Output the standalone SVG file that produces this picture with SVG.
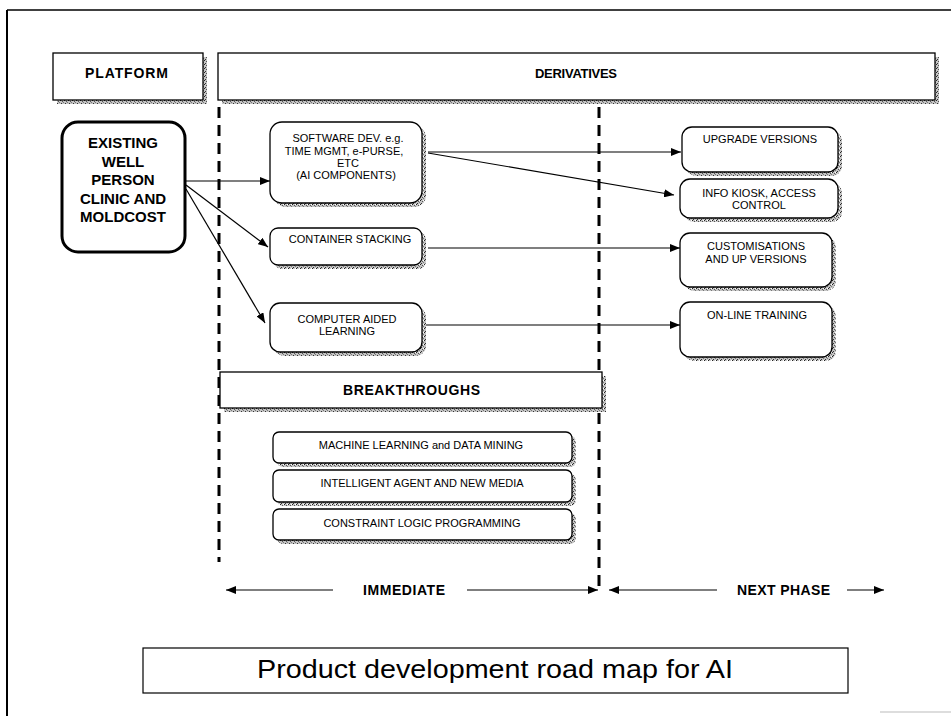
<svg xmlns="http://www.w3.org/2000/svg" width="951" height="716" viewBox="0 0 951 716">
<style>
text{font-family:"Liberation Sans",Arial,sans-serif;fill:#000}
.b{font-weight:bold}
.s{font-size:11px}
.m{text-anchor:middle}
.box{fill:#fff;stroke:#000;stroke-width:1.3}
.sh{fill:url(#hatch)}
.con{stroke:#000;stroke-width:1.2;fill:none}
.dash{stroke:#000;stroke-width:3;stroke-dasharray:11 7;fill:none}
.frame{stroke:#000;fill:none}
</style>
<defs>
<pattern id="hatch" width="4" height="4" patternUnits="userSpaceOnUse">
<rect width="4" height="4" fill="#c4c4c4"/>
<rect x="0" y="0" width="1" height="1" fill="#222"/>
<rect x="2" y="1" width="1" height="1" fill="#555"/>
<rect x="1" y="3" width="1" height="1" fill="#333"/>
<rect x="3" y="2" width="1" height="1" fill="#777"/>
<rect x="3" y="0" width="1" height="1" fill="#fff"/>
</pattern>
<marker id="arr" markerWidth="10" markerHeight="8" refX="10" refY="4" orient="auto" markerUnits="userSpaceOnUse">
<path d="M0,0 L10,4 L0,8 Z" fill="#000"/>
</marker>
</defs>

<g id="page-frame">
<line class="frame" x1="7" y1="10" x2="951" y2="10" stroke-width="1.5"/>
<line class="frame" x1="7" y1="10" x2="7" y2="716" stroke-width="2"/>
<line x1="880" y1="712" x2="951" y2="712" stroke="#bbb" stroke-width="1"/>
</g>

<g id="phase-dividers">
<line class="dash" x1="219" y1="107" x2="219" y2="562"/>
<line class="dash" x1="599" y1="107" x2="599" y2="588"/>
</g>

<g id="platform">
<rect class="sh" x="57" y="57" width="150" height="47"/>
<rect class="box" x="53" y="53" width="150" height="47"/>
<text class="b" x="85" y="78" font-size="14" textLength="83">PLATFORM</text>
</g>

<g id="derivatives">
<rect class="sh" x="222" y="57" width="717" height="47"/>
<rect class="box" x="218" y="53" width="717" height="47"/>
<text class="b" x="535" y="78" font-size="13" textLength="82">DERIVATIVES</text>
</g>

<g id="existing-clinic">
<rect x="62" y="122" width="123" height="130" rx="16" fill="#fff" stroke="#000" stroke-width="3"/>
<text class="b m" x="123" y="148" font-size="15">EXISTING</text>
<text class="b m" x="123" y="167" font-size="15">WELL</text>
<text class="b m" x="123" y="185" font-size="15">PERSON</text>
<text class="b m" x="123" y="204" font-size="15">CLINIC AND</text>
<text class="b m" x="123" y="222" font-size="15">MOLDCOST</text>
</g>

<g id="software-dev">
<rect class="sh" x="274" y="126" width="152" height="81" rx="12"/>
<rect class="box" x="270" y="122" width="152" height="81" rx="12"/>
<text class="s m" x="348" y="142">SOFTWARE DEV. e.g.</text>
<text class="s m" x="344" y="155">TIME MGMT, e-PURSE,</text>
<text class="s m" x="348" y="167">ETC</text>
<text class="s m" x="346" y="179">(AI COMPONENTS)</text>
</g>

<g id="container-stacking">
<rect class="sh" x="274" y="232" width="152" height="37" rx="8"/>
<rect class="box" x="270" y="228" width="152" height="37" rx="8"/>
<text class="s m" x="350" y="243">CONTAINER STACKING</text>
</g>

<g id="computer-aided-learning">
<rect class="sh" x="274" y="307" width="152" height="49" rx="10"/>
<rect class="box" x="270" y="303" width="152" height="49" rx="10"/>
<text class="s m" x="347" y="323">COMPUTER AIDED</text>
<text class="s m" x="347" y="335">LEARNING</text>
</g>

<g id="upgrade-versions">
<rect class="sh" x="686" y="131" width="156" height="45" rx="10"/>
<rect class="box" x="682" y="127" width="156" height="45" rx="10"/>
<text class="s m" x="760" y="143">UPGRADE VERSIONS</text>
</g>

<g id="info-kiosk">
<rect class="sh" x="684" y="183" width="158" height="39" rx="10"/>
<rect class="box" x="680" y="179" width="158" height="39" rx="10"/>
<text class="s m" x="759" y="197">INFO KIOSK, ACCESS</text>
<text class="s m" x="759" y="209">CONTROL</text>
</g>

<g id="customisations">
<rect class="sh" x="684" y="237" width="152" height="54" rx="10"/>
<rect class="box" x="680" y="233" width="152" height="54" rx="10"/>
<text class="s m" x="756" y="250">CUSTOMISATIONS</text>
<text class="s m" x="756" y="263">AND UP VERSIONS</text>
</g>

<g id="online-training">
<rect class="sh" x="684" y="306" width="152" height="55" rx="10"/>
<rect class="box" x="680" y="302" width="152" height="55" rx="10"/>
<text class="s m" x="757" y="319">ON-LINE TRAINING</text>
</g>

<g id="breakthroughs">
<rect class="sh" x="224" y="376" width="382" height="36"/>
<rect class="box" x="220" y="372" width="382" height="36"/>
<text class="b" x="343" y="395" font-size="14" textLength="137">BREAKTHROUGHS</text>
</g>

<g id="machine-learning">
<rect class="sh" x="277" y="436" width="299" height="31" rx="6"/>
<rect class="box" x="273" y="432" width="299" height="31" rx="6"/>
<text class="s m" x="421" y="449">MACHINE LEARNING and DATA MINING</text>
</g>

<g id="intelligent-agent">
<rect class="sh" x="277" y="474" width="299" height="32" rx="6"/>
<rect class="box" x="273" y="470" width="299" height="32" rx="6"/>
<text class="s m" x="422" y="487">INTELLIGENT AGENT AND NEW MEDIA</text>
</g>

<g id="constraint-logic">
<rect class="sh" x="277" y="513" width="299" height="31" rx="6"/>
<rect class="box" x="273" y="509" width="299" height="31" rx="6"/>
<text class="s m" x="422" y="527">CONSTRAINT LOGIC PROGRAMMING</text>
</g>

<g id="connectors">
<line class="con" x1="186" y1="181" x2="270" y2="181" marker-end="url(#arr)"/>
<line class="con" x1="186" y1="185" x2="268" y2="247" marker-end="url(#arr)"/>
<line class="con" x1="186" y1="189" x2="265" y2="323" marker-end="url(#arr)"/>
<line class="con" x1="428" y1="152" x2="681" y2="152" marker-end="url(#arr)"/>
<line class="con" x1="428" y1="153" x2="674" y2="195" marker-end="url(#arr)"/>
<line class="con" x1="428" y1="248" x2="680" y2="248" marker-end="url(#arr)"/>
<line class="con" x1="426" y1="325" x2="680" y2="325" marker-end="url(#arr)"/>
</g>

<g id="timeline">
<line class="con" x1="333" y1="590" x2="226" y2="590" marker-end="url(#arr)"/>
<line class="con" x1="467" y1="590" x2="598" y2="590" marker-end="url(#arr)"/>
<text class="b" x="363" y="595" font-size="14" textLength="82">IMMEDIATE</text>
<line class="con" x1="717" y1="590" x2="609" y2="590" marker-end="url(#arr)"/>
<line class="con" x1="847" y1="590" x2="884" y2="590" marker-end="url(#arr)"/>
<text class="b" x="737" y="595" font-size="14" textLength="93">NEXT PHASE</text>
</g>

<g id="title">
<rect x="143" y="648" width="705" height="45" fill="#fff" stroke="#000" stroke-width="1.2"/>
<text x="257" y="678" font-size="25" textLength="476" lengthAdjust="spacingAndGlyphs">Product development road map for AI</text>
</g>
</svg>
